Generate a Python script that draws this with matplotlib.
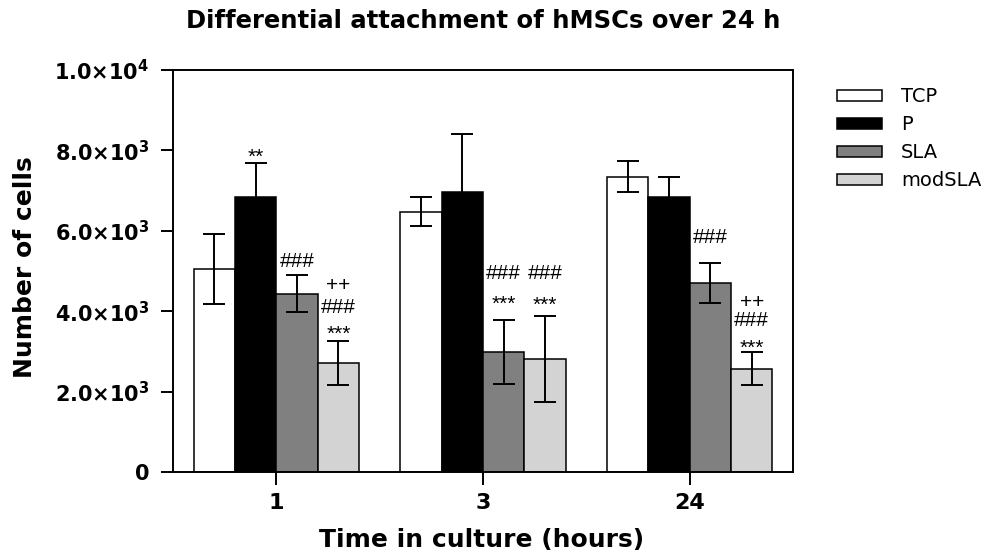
# Differential attachment of hMSCs over 24 h - grouped bar chart with SD error bars
import matplotlib
matplotlib.use('Agg')
import matplotlib.pyplot as plt
import numpy as np

plt.rcParams['font.family'] = ['DejaVu Sans']
plt.rcParams['mathtext.fontset'] = 'dejavusans'

# data
time_points = ['1', '3', '24']
surfaces = ['TCP', 'P', 'SLA', 'modSLA']
tcp_mean = [5050, 6480, 7350]
tcp_sd = [875, 360, 395]
p_mean = [6850, 6970, 6850]
p_sd = [830, 1435, 500]
sla_mean = [4440, 2990, 4710]
sla_sd = [450, 800, 500]
modsla_mean = [2710, 2800, 2570]
modsla_sd = [545, 1070, 405]

# significance marks: (time index, surface index, text, offset above error bar in px)
marks = [
    (0, 1, '**', 0), (0, 2, '###', 8),
    (0, 3, '***', 1), (0, 3, '###', 28), (0, 3, '++', 50),
    (1, 2, '***', 10), (1, 2, '###', 41),
    (1, 3, '***', 6), (1, 3, '###', 37),
    (2, 2, '###', 20),
    (2, 3, '***', -1), (2, 3, '###', 26), (2, 3, '++', 44),
]

means = [tcp_mean, p_mean, sla_mean, modsla_mean]
sds = [tcp_sd, p_sd, sla_sd, modsla_sd]
colors = ['white', 'black', '#808080', '#d3d3d3']

fig = plt.figure(figsize=(9.93, 5.56), dpi=100)
ax = fig.add_axes([0.1742, 0.1511, 0.6244, 0.723])

x = np.arange(len(time_points))
width = 0.2
offsets = (np.arange(len(surfaces)) - 1.5) * width

for i, name in enumerate(surfaces):
    ax.bar(x + offsets[i], means[i], width, color=colors[i], edgecolor='black',
           linewidth=1.1, label=name, zorder=2)
    ax.errorbar(x + offsets[i], means[i], yerr=sds[i], fmt='none', ecolor='black',
                elinewidth=1.4, capsize=8, capthick=1.4, zorder=3)

for t, s, txt, off in marks:
    ytop = means[s][t] + sds[s][t]
    ax.annotate(txt, (x[t] + offsets[s], ytop), xytext=(0, off), textcoords='offset pixels',
                ha='center', va='baseline', fontsize=15, color='black',
                family='Liberation Sans')

ax.set_xlim(-0.5, 2.5)
ax.set_ylim(0, 10000)
ax.set_xticks(x)
ax.set_xticklabels(time_points, fontsize=16, fontweight='bold')
yt = [0, 2000, 4000, 6000, 8000, 10000]
ylabels = ['0']
for v in yt[1:]:
    e = int(np.log10(v))
    ylabels.append('%.1f\u00d710$^{\\mathbf{%d}}$' % (v / 10 ** e, e))
ax.set_yticks(yt)
ax.set_yticklabels(ylabels, fontsize=15, fontweight='bold')
ax.tick_params(axis='both', direction='out', length=9, width=1.4)
ax.tick_params(axis='y', pad=8)
ax.tick_params(axis='x', pad=6)
for sp in ax.spines.values():
    sp.set_linewidth(1.4)

fig.text(483 / 993, 1 - 21 / 556, 'Differential attachment of hMSCs over 24 h',
         ha='center', va='center', fontsize=17.5, fontweight='bold')
fig.text(482 / 993, 1 - 540 / 556, 'Time in culture (hours)', ha='center', va='center',
         fontsize=18, fontweight='bold')
fig.text(25 / 993, 1 - 267 / 556, 'Number of cells', ha='center', va='center',
         rotation=90, fontsize=18, fontweight='bold')

ax.legend(loc='upper left', bbox_to_anchor=(837 / 993, 1 - 87.5 / 556),
          bbox_transform=fig.transFigure, frameon=False, fontsize=14,
          handlelength=2.3, handleheight=0.5, handletextpad=1.0, labelspacing=0.46,
          borderpad=0, borderaxespad=0)

fig.savefig('out.png', dpi=100)
